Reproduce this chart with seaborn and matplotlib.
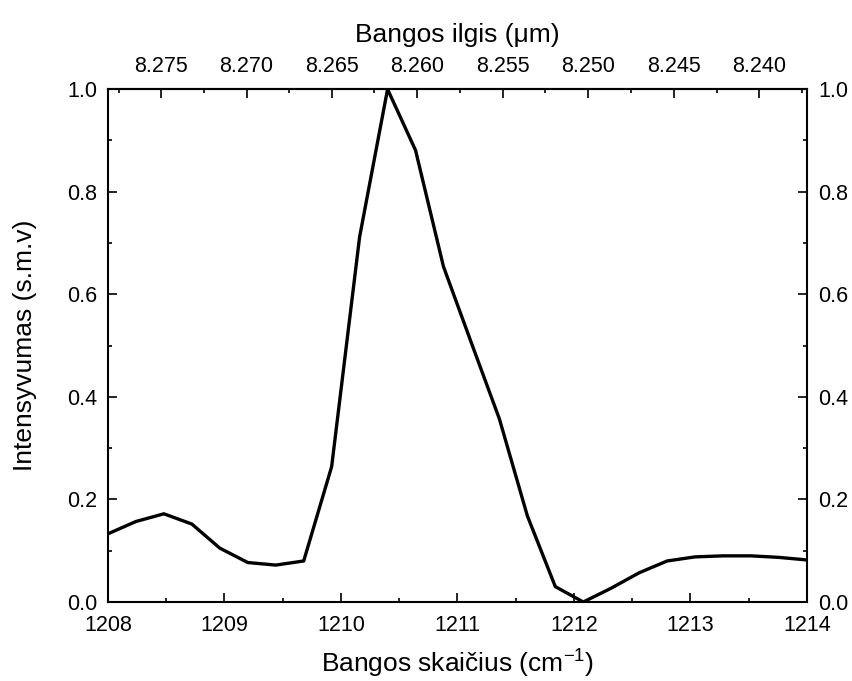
import numpy as np
import pandas as pd
import matplotlib
matplotlib.use("Agg")
import matplotlib.pyplot as plt
from matplotlib.ticker import FixedLocator, MultipleLocator
import seaborn as sns

wavenumber = [1208.00, 1208.24, 1208.48, 1208.72, 1208.96, 1209.20, 1209.44,
              1209.68, 1209.92, 1210.16, 1210.40, 1210.64, 1210.88, 1211.12,
              1211.36, 1211.60, 1211.84, 1212.08, 1212.32, 1212.56, 1212.80,
              1213.04, 1213.28, 1213.52, 1213.76, 1214.00]
intensity = [0.133, 0.157, 0.172, 0.152, 0.105, 0.077, 0.072, 0.080, 0.264,
             0.712, 1.000, 0.881, 0.654, 0.505, 0.357, 0.168, 0.030, 0.000,
             0.027, 0.057, 0.080, 0.088, 0.090, 0.090, 0.087, 0.082]
top_ticks = [8.275, 8.270, 8.265, 8.260, 8.255, 8.250, 8.245, 8.240]

df = pd.DataFrame({"wn": wavenumber, "I": intensity})

sns.set_style("ticks")
plt.rcParams["font.family"] = ["Liberation Sans", "DejaVu Sans"]
plt.rcParams["mathtext.fontset"] = "custom"
plt.rcParams["mathtext.rm"] = "Liberation Sans"
plt.rcParams["mathtext.it"] = "Liberation Sans:italic"
plt.rcParams["axes.labelcolor"] = "black"
plt.rcParams["text.color"] = "black"

fig = plt.figure(figsize=(8.53, 6.81), dpi=100)
ax = fig.add_axes([0.1266, 0.116, 0.8194, 0.753])

sns.lineplot(data=df, x="wn", y="I", color="black", linewidth=2.4, ax=ax)

ax.set_xlim(1208, 1214)
ax.set_ylim(0, 1.0)
ax.xaxis.set_major_locator(MultipleLocator(1))
ax.xaxis.set_minor_locator(MultipleLocator(0.5))
ax.yaxis.set_major_locator(MultipleLocator(0.2))
ax.yaxis.set_minor_locator(MultipleLocator(0.1))
ax.yaxis.set_major_formatter(plt.FormatStrFormatter("%.1f"))

for s in ax.spines.values():
    s.set_linewidth(1.5)
    s.set_color("black")

ax.tick_params(which="both", direction="in", width=1.2, colors="black",
               labelsize=15.5, left=True, right=True, labelright=True,
               bottom=True, top=False)
ax.tick_params(which="major", length=6.7)
ax.tick_params(which="minor", length=3.2)
ax.tick_params(axis="x", pad=9)
ax.tick_params(axis="y", pad=8)

ax.set_xlabel("Bangos skaičius (cm$^{-1}$)", fontsize=19, labelpad=9)
ax.set_ylabel("Intensyvumas (s.m.v)", fontsize=19, labelpad=21)

top = ax.secondary_xaxis("top", functions=(lambda x: 1e4 / x, lambda x: 1e4 / x))
top.xaxis.set_major_locator(FixedLocator(top_ticks))
top.xaxis.set_minor_locator(FixedLocator(np.arange(8.2375, 8.2801, 0.0025)))
top.xaxis.set_major_formatter(plt.FormatStrFormatter("%.3f"))
top.tick_params(which="both", direction="in", width=1.2, labelsize=15.5, pad=9,
                colors="black")
top.tick_params(which="major", length=6.7)
top.tick_params(which="minor", length=3.2)
top.spines["top"].set_linewidth(1.5)
top.set_xlabel("Bangos ilgis (μm)", fontsize=19, labelpad=10)

fig.savefig("out.png", dpi=100)
